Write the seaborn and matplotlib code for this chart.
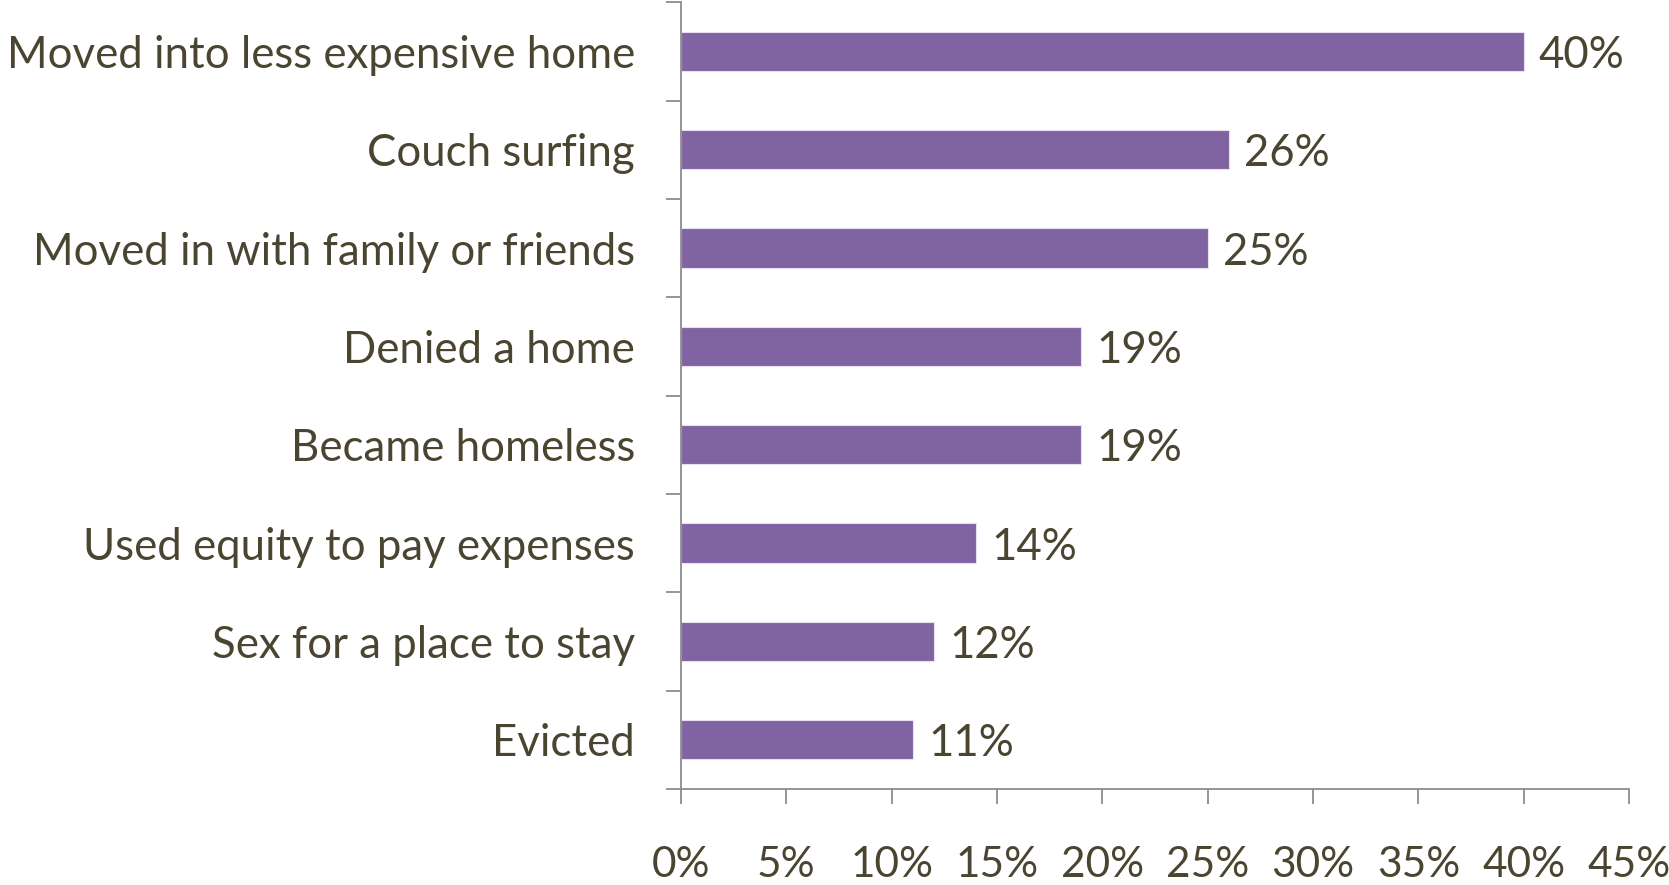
import numpy as np
import pandas as pd
import seaborn as sns
import matplotlib.pyplot as plt
from matplotlib.ticker import FixedLocator, PercentFormatter

categories = ['Moved into less expensive home',
              'Couch surfing',
              'Moved in with family or friends',
              'Denied a home',
              'Became homeless',
              'Used equity to pay expenses',
              'Sex for a place to stay',
              'Evicted']
percents = [40, 26, 25, 19, 19, 14, 12, 11]
x_ticks = [0, 5, 10, 15, 20, 25, 30, 35, 40, 45]

bar_color = '#8064A2'
text_color = '#4A4530'
axis_color = '#8C8C8C'
font_size = 31.5

sns.set_style('white')
plt.rcParams['font.family'] = ['Lato', 'DejaVu Sans']

df = pd.DataFrame({'reason': categories, 'pct': percents})

fig = plt.figure(figsize=(16.69, 8.85), dpi=100)
ax = fig.add_axes([0.408, 0.1085, 0.568, 0.889])
sns.barplot(data=df, x='pct', y='reason', order=categories, color=bar_color,
            width=0.4, saturation=1, edgecolor='#E6DFF0', linewidth=0.8, ax=ax)

ax.set_xlim(0, 45)
ax.set_ylim(len(categories) - 0.5, -0.5)
ax.set_xticks(x_ticks)
ax.xaxis.set_major_formatter(PercentFormatter(decimals=0))
ax.set_xlabel('')
ax.set_ylabel('')

# category boundaries get the tick marks, labels sit on the centres
ax.yaxis.set_minor_locator(FixedLocator(np.arange(-0.5, len(categories), 1.0)))
ax.tick_params(axis='y', which='major', length=0, pad=33, labelsize=font_size, labelcolor=text_color)
ax.tick_params(axis='y', which='minor', length=11, width=1.3, color=axis_color, left=True)
ax.tick_params(axis='x', which='major', length=11, width=1.3, color=axis_color, bottom=True,
               pad=30, labelsize=30.5, labelcolor=text_color)

for side in ['top', 'right']:
    ax.spines[side].set_visible(False)
for side in ['left', 'bottom']:
    ax.spines[side].set_color(axis_color)
    ax.spines[side].set_linewidth(1.3)

for container in ax.containers:
    labels = ax.bar_label(container, labels=[f'{v}%' for v in percents], padding=11,
                          fontsize=font_size, color=text_color)
    for t in labels:
        t.set_va('center_baseline')

plt.savefig('out.png', dpi=100)
